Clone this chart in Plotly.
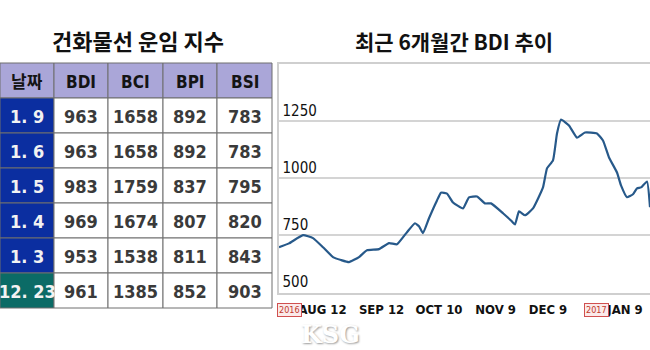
import plotly.graph_objects as go

# --- table data: dry bulk freight indices ---
dates = ["1. 9", "1. 6", "1. 5", "1. 4", "1. 3", "12. 23"]
bdi = [963, 963, 983, 969, 953, 961]
bci = [1658, 1658, 1759, 1674, 1538, 1385]
bpi = [892, 892, 837, 807, 811, 852]
bsi = [783, 783, 795, 820, 843, 903]
header = ["날짜", "BDI", "BCI", "BPI", "BSI"]

# --- BDI over the last six months (day offset from the window start) ---
bdi_day = [0, 5, 12, 17, 22, 27, 31, 35, 40, 44, 50, 55, 59, 64, 68, 70, 72, 75,
           79, 81, 84, 87, 92, 95, 99, 103, 106, 112, 116, 118, 120, 123, 127,
           132, 134, 137, 139, 141, 145, 149, 153, 159, 162, 165, 169, 171, 174,
           177, 179, 181, 184, 185.5]
bdi_val = [698, 715, 751, 738, 698, 655, 642, 633, 655, 685, 690, 716, 711, 764,
           803, 790, 760, 825, 903, 937, 933, 894, 868, 916, 920, 890, 890, 847,
           815, 798, 855, 838, 868, 960, 1043, 1078, 1196, 1257, 1231, 1178,
           1200, 1196, 1165, 1091, 1025, 969, 917, 930, 956, 960, 986, 873]
tick_pos = [21.8, 51.3, 80, 108.3, 134.5, 173]
tick_text = ["AUG 12", "SEP 12", "OCT 10", "NOV 9", "DEC 9", "JAN 9"]
year_marks = [(5, "2016"), (158.5, "2017")]
y_ticks = [500, 750, 1000, 1250]

W, H = 650, 350
NARROW = "DejaVu Sans Condensed, Roboto, Noto Sans CJK KR, sans-serif"
CJK = "Noto Sans CJK KR, sans-serif"


def px(x):
    return x / W


def py(y):
    return 1 - y / H


# table grid in pixels
col_edges = [0, 54, 108, 163, 217, 272]
row_top, row_h = 63, 35
header_fill = "#aaa6d8"
blue_cell, teal_cell = "#0b2ea0", "#0b6b66"
grid_color = "#6e6e6e"

columns = [dates, bdi, bci, bpi, bsi]
n_rows = len(dates)

shapes = []
annotations = []

# faint embossed watermark under the date axis
annotations.append(dict(
    text="<b>KSG</b>", x=px(330), y=py(334), xref="paper", yref="paper",
    xanchor="center", yanchor="middle", showarrow=False,
    font=dict(family="DejaVu Serif, serif", size=24, color="#ffffff",
              shadow="1px 1px 2px #9a9a9a"),
))

for r in range(n_rows + 1):
    y0 = row_top + r * row_h
    y1 = y0 + row_h
    for c in range(len(col_edges) - 1):
        x0, x1 = col_edges[c], col_edges[c + 1]
        if r == 0:
            fill, txt, color = header_fill, header[c], "#141414"
        else:
            txt = str(columns[c][r - 1])
            if c == 0:
                fill = teal_cell if r == n_rows else blue_cell
                color = "#f2f2f2"
            else:
                fill, color = "white", "#3a3a3a"
        shapes.append(dict(type="rect", xref="paper", yref="paper",
                           x0=px(x0), x1=px(x1), y0=py(y1), y1=py(y0),
                           fillcolor=fill, line=dict(color=grid_color, width=1)))
        annotations.append(dict(
            text=f"<b>{txt}</b>", x=px((x0 + x1) / 2), y=py((y0 + y1) / 2 + 1),
            xref="paper", yref="paper", xanchor="center", yanchor="middle",
            showarrow=False,
            font=dict(family=NARROW, size=18 if r else 17, color=color),
        ))

annotations += [
    dict(text="<b>건화물선 운임 지수</b>", x=px(138), y=py(40), xref="paper", yref="paper",
         xanchor="center", yanchor="middle", showarrow=False,
         font=dict(family=CJK, size=22, color="#111111")),
    dict(text="<b>최근 6개월간 BDI 추이</b>", x=px(454), y=py(41), xref="paper", yref="paper",
         xanchor="center", yanchor="middle", showarrow=False,
         font=dict(family=CJK, size=21, color="#111111")),
]
for pos, yr in year_marks:
    annotations.append(dict(
        text=yr, x=pos, y=py(310), xref="x", yref="paper", showarrow=False,
        xanchor="center", yanchor="middle",
        font=dict(family=NARROW, size=9, color="#c0392b"),
        bgcolor="#fbeaea", bordercolor="#d05050", borderwidth=1, borderpad=1,
    ))

fig = go.Figure()
fig.add_trace(go.Scatter(
    x=bdi_day, y=bdi_val, mode="lines",
    line=dict(color="#27598a", width=2.2, shape="spline", smoothing=0.4),
    hoverinfo="skip", showlegend=False,
))

fig.update_layout(
    width=W, height=H,
    margin=dict(l=0, r=0, t=0, b=0, autoexpand=False),
    paper_bgcolor="white", plot_bgcolor="white",
    showlegend=False,
    shapes=shapes,
    annotations=annotations,
    xaxis=dict(
        domain=[px(279), 1], range=[0, 185.5], automargin=False,
        tickvals=tick_pos, ticktext=tick_text,
        tickfont=dict(family=NARROW, size=13, color="#111111", weight="bold"),
        showgrid=False, zeroline=False,
        showline=True, linecolor="#cfcfcf", linewidth=1.5, mirror=True,
        ticks="", ticklabelstandoff=4,
    ),
    yaxis=dict(
        domain=[py(292.5), py(64)], range=[500, 1500], automargin=False,
        tickvals=y_ticks,
        tickfont=dict(family=NARROW, size=15, color="#111111"),
        ticklabelposition="inside top", ticklabelstandoff=3,
        showgrid=True, gridcolor="#d4d4d4", gridwidth=1.5,
        zeroline=False, showline=True, linecolor="#cfcfcf", linewidth=1.5,
        ticks="",
    ),
)

fig.write_html("out.html")
